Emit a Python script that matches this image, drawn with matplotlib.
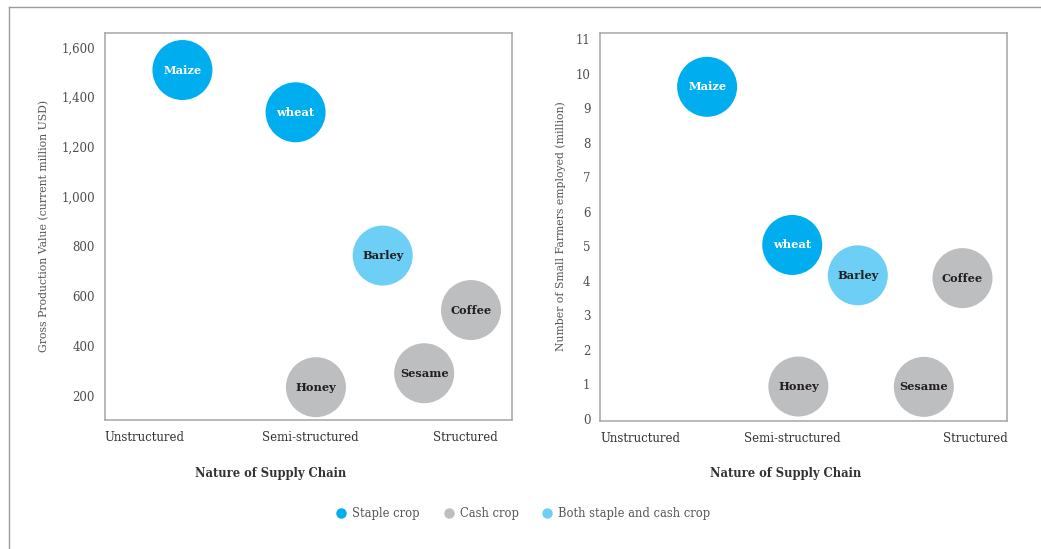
import matplotlib
matplotlib.use("Agg")
import matplotlib.pyplot as plt
from matplotlib.lines import Line2D

plt.rcParams['font.family'] = ['DejaVu Serif']

# ---- data ----
crops = ["Maize", "wheat", "Barley", "Coffee", "Honey", "Sesame"]
crop_type = ["staple", "staple", "both", "cash", "cash", "cash"]

# Left chart: gross production value (current million USD)
left_supply_pos = [0.191, 0.469, 0.683, 0.900, 0.519, 0.785]
gross_value = [1509, 1339, 763, 544, 234, 290]

# Right chart: number of small farmers employed (million)
right_supply_pos = [0.263, 0.472, 0.633, 0.890, 0.487, 0.795]
farmers = [9.62, 5.04, 4.16, 4.08, 0.94, 0.93]

left_yticks = [200, 400, 600, 800, 1000, 1200, 1400, 1600]
right_yticks = list(range(0, 12))
x_categories = ["Unstructured", "Semi-structured", "Structured"]
left_xcat_pos = [0.0, 0.506, 0.885]
right_xcat_pos = [0.0, 0.471, 1.0]

legend_labels = ["Staple crop", "Cash crop", "Both staple and cash crop"]

# ---- styles ----
colors = {"staple": "#00AEEF", "cash": "#BCBEC0", "both": "#6DCFF6"}
text_colors = {"staple": "#FFFFFF", "cash": "#231F20", "both": "#231F20"}
spine_color = "#A6A6A6"
tick_color = "#4D4D4D"

W, H = 1041, 549
fig = plt.figure(figsize=(W / 100, H / 100), dpi=100)

# outer frame
fig.add_artist(Line2D([9 / W, 1.0], [1 - 7 / H, 1 - 7 / H], color="#9A9A9A", lw=1.0))
fig.add_artist(Line2D([9 / W, 9 / W], [0.0, 1 - 7 / H], color="#9A9A9A", lw=1.0))

ax1 = fig.add_axes([104.7 / W, 1 - 420 / H, 407 / W, (420 - 32.7) / H])
ax2 = fig.add_axes([600 / W, 1 - 420.7 / H, 407.3 / W, (420.7 - 33.3) / H])

bubble_s = (60 * 72 / 100) ** 2


def draw(ax, xs, ys, ylim, yticks, yfmt, xcat_pos, xcat_ha, ylabel, ylabel_x, xlabel_x):
    for name, t, x, y in zip(crops, crop_type, xs, ys):
        ax.scatter([x], [y], s=bubble_s, color=colors[t], edgecolors="none", zorder=3, clip_on=False)
        ax.text(x, y, name, ha="center", va="center", fontsize=8.2, fontweight="bold",
                color=text_colors[t], zorder=4)
    ax.set_xlim(0, 1)
    ax.set_ylim(*ylim)
    ax.set_yticks(yticks)
    ax.set_yticklabels([yfmt(v) for v in yticks])
    ax.tick_params(axis="y", length=0, pad=7, labelsize=8.5, labelcolor=tick_color)
    ax.set_xticks([])
    for s in ax.spines.values():
        s.set_color(spine_color)
        s.set_linewidth(1.1)
    for lab, p, ha in zip(x_categories, xcat_pos, xcat_ha):
        ax.text(p, -0.045, lab, transform=ax.transAxes, ha=ha, va="center",
                fontsize=8.5, color="#333333")
    fig.text(ylabel_x / W, 1 - 226 / H, ylabel, rotation=90, ha="center", va="center",
             fontsize=7.8, color="#555555")
    fig.text(xlabel_x / W, 1 - 474 / H, "Nature of Supply Chain", ha="center", va="center",
             fontsize=8.3, fontweight="bold", color="#333333")


draw(ax1, left_supply_pos, gross_value, (102, 1659), left_yticks,
     lambda v: f"{v:,}", left_xcat_pos, ["left", "center", "center"],
     "Gross Production Value (current million USD)", 44, 271)
draw(ax2, right_supply_pos, farmers, (-0.05, 11.17), right_yticks,
     lambda v: f"{v}", right_xcat_pos, ["left", "center", "right"],
     "Number of Small Farmers employed (million)", 561, 786)

handles = [Line2D([], [], marker="o", linestyle="none", markersize=7.5,
                  markerfacecolor=colors[k], markeredgecolor="none")
           for k in ["staple", "cash", "both"]]
fig.legend(handles, legend_labels, ncol=3, loc="center", bbox_to_anchor=(523 / W, 1 - 514 / H),
           frameon=False, fontsize=8.3, labelcolor="#555555", handletextpad=0.45,
           columnspacing=2.0, handlelength=1.0)

fig.savefig("out.png", dpi=100)
